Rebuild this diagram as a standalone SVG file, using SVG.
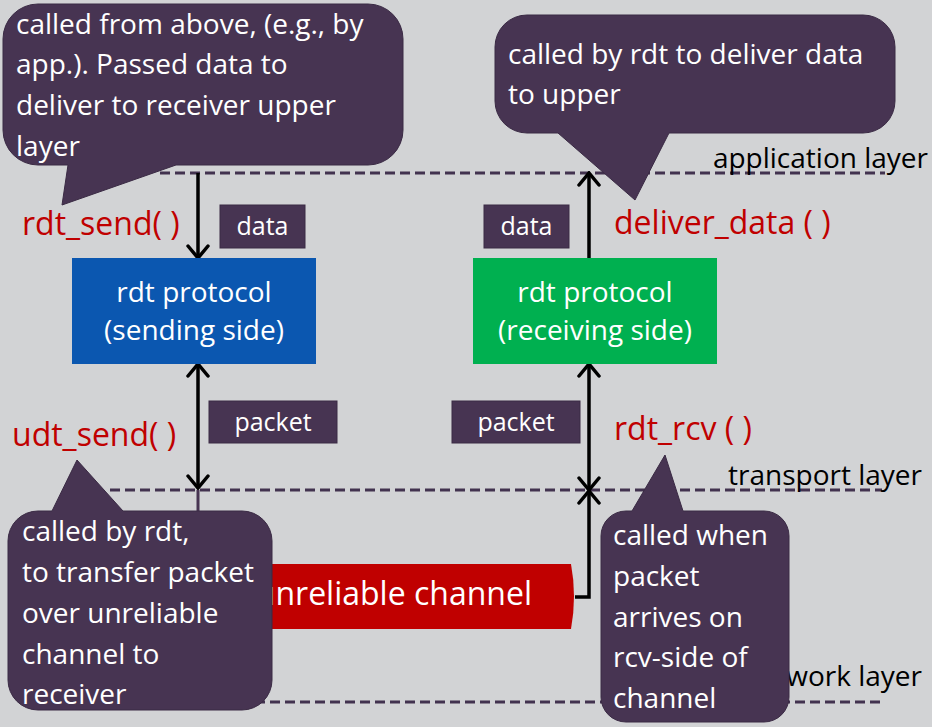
<svg xmlns="http://www.w3.org/2000/svg" width="932" height="727" viewBox="0 0 932 727">
<defs>
<style>
text{font-family:"Open Sans","Noto Sans","DejaVu Sans",sans-serif}
.layer{fill:none;stroke:#42324f;stroke-width:3;stroke-dasharray:10 5}
.lt{font-size:28px;fill:#000}
.fn{font-size:32px;fill:#c00000}
.ct{font-size:28px;fill:#fff}
.callout{fill:#473452;stroke:#3a2a44;stroke-width:1}
.tag{fill:#473452;stroke:#3a2a44;stroke-width:1}
.tagt{font-size:25px;fill:#fff;text-anchor:middle}
.bt{font-size:28px;fill:#fff;text-anchor:middle}
.arr{fill:none;stroke:#000;stroke-width:3.5}
</style>
<marker id="ah" viewBox="0 0 16 24" refX="14" refY="12" markerWidth="16" markerHeight="24" markerUnits="userSpaceOnUse" orient="auto-start-reverse">
<path d="M2,2 L14,12 L2,22" fill="none" stroke="#000" stroke-width="3.5" stroke-linecap="round" stroke-linejoin="miter"/>
</marker>
</defs>
<rect width="932" height="727" fill="#d2d3d5"/>

<g id="layers">
<line class="layer" x1="160" y1="173" x2="885" y2="173"/>
<line class="layer" x1="110" y1="490" x2="882" y2="490"/>
<line class="layer" x1="150" y1="702" x2="885" y2="702"/>
<text class="lt" x="928" y="168" text-anchor="end">application layer</text>
<text class="lt" x="922" y="485" text-anchor="end">transport layer</text>
<text class="lt" x="922" y="686" text-anchor="end">network layer</text>
</g>

<g id="channel">
<path d="M150,564 H571 Q577,596 571,629 H150 Z" fill="#c00000"/>
<text x="532" y="605" font-size="32" fill="#fff" text-anchor="end">unreliable channel</text>
</g>

<g id="connectors">
<path class="arr" d="M198,173 V258" marker-end="url(#ah)"/>
<path class="arr" d="M198,364 V488" marker-start="url(#ah)" marker-end="url(#ah)"/>
<path d="M198,490 V565" fill="none" stroke="#473452" stroke-width="3"/>
<path class="arr" d="M589,258 V173" marker-end="url(#ah)"/>
<path class="arr" d="M589,364 V490" marker-start="url(#ah)" marker-end="url(#ah)"/>
<path class="arr" d="M575,597 H589 V491" marker-end="url(#ah)"/>
</g>

<g id="sender">
<rect x="72" y="258" width="244" height="106" fill="#0b57b0"/>
<text class="bt" x="194" y="302">rdt protocol</text>
<text class="bt" x="194" y="340">(sending side)</text>
</g>

<g id="receiver">
<rect x="473" y="258" width="244" height="106" fill="#00b050"/>
<text class="bt" x="595" y="302">rdt protocol</text>
<text class="bt" x="595" y="340">(receiving side)</text>
</g>

<g id="data-left">
<rect class="tag" x="220" y="205" width="85" height="43"/>
<text class="tagt" x="262.5" y="235">data</text>
</g>
<g id="data-right">
<rect class="tag" x="484" y="205" width="85" height="43"/>
<text class="tagt" x="526.5" y="235">data</text>
</g>
<g id="packet-left">
<rect class="tag" x="209" y="401" width="128" height="42"/>
<text class="tagt" x="273" y="431">packet</text>
</g>
<g id="packet-right">
<rect class="tag" x="452" y="401" width="128" height="42"/>
<text class="tagt" x="516" y="431">packet</text>
</g>

<g id="fn-labels">
<text class="fn" x="22" y="235">rdt_send( )</text>
<text class="fn" x="614" y="234">deliver_data ( )</text>
<text class="fn" x="12" y="446">udt_send( )</text>
<text class="fn" x="614" y="440">rdt_rcv ( )</text>
</g>

<g id="callout-send">
<path class="callout" d="M38,4 H368 A35,35 0 0 1 403,39 V130 A35,35 0 0 1 368,165 H176 L62,205 L68,165 H38 A35,35 0 0 1 3,130 V39 A35,35 0 0 1 38,4 Z"/>
<text class="ct" x="16" y="34">called from above, (e.g., by</text>
<text class="ct" x="16" y="74">app.). Passed data to</text>
<text class="ct" x="16" y="115">deliver to receiver upper</text>
<text class="ct" x="16" y="156">layer</text>
</g>

<g id="callout-deliver">
<path class="callout" d="M527,15 H863 A32,32 0 0 1 895,47 V101 A32,32 0 0 1 863,133 H669 L635,200 L558,133 H527 A32,32 0 0 1 495,101 V47 A32,32 0 0 1 527,15 Z"/>
<text class="ct" x="508" y="64">called by rdt to deliver data</text>
<text class="ct" x="508" y="104">to upper</text>
</g>

<g id="callout-udt">
<path class="callout" d="M38,511 H52 L77,460 L123,511 H242 A30,30 0 0 1 272,541 V680 A30,30 0 0 1 242,710 H38 A30,30 0 0 1 8,680 V541 A30,30 0 0 1 38,511 Z"/>
<text class="ct" x="22" y="541">called by rdt,</text>
<text class="ct" x="22" y="582">to transfer packet</text>
<text class="ct" x="22" y="623">over unreliable</text>
<text class="ct" x="22" y="664">channel to</text>
<text class="ct" x="22" y="704">receiver</text>
</g>

<g id="callout-rcv">
<path class="callout" d="M626,511 H632 L665,455 L683,511 H764 A25,25 0 0 1 789,536 V697 A25,25 0 0 1 764,722 H626 A25,25 0 0 1 601,697 V536 A25,25 0 0 1 626,511 Z"/>
<text class="ct" x="613" y="545">called when</text>
<text class="ct" x="613" y="586">packet</text>
<text class="ct" x="613" y="627">arrives on</text>
<text class="ct" x="613" y="667">rcv-side of</text>
<text class="ct" x="613" y="708">channel</text>
</g>
</svg>
